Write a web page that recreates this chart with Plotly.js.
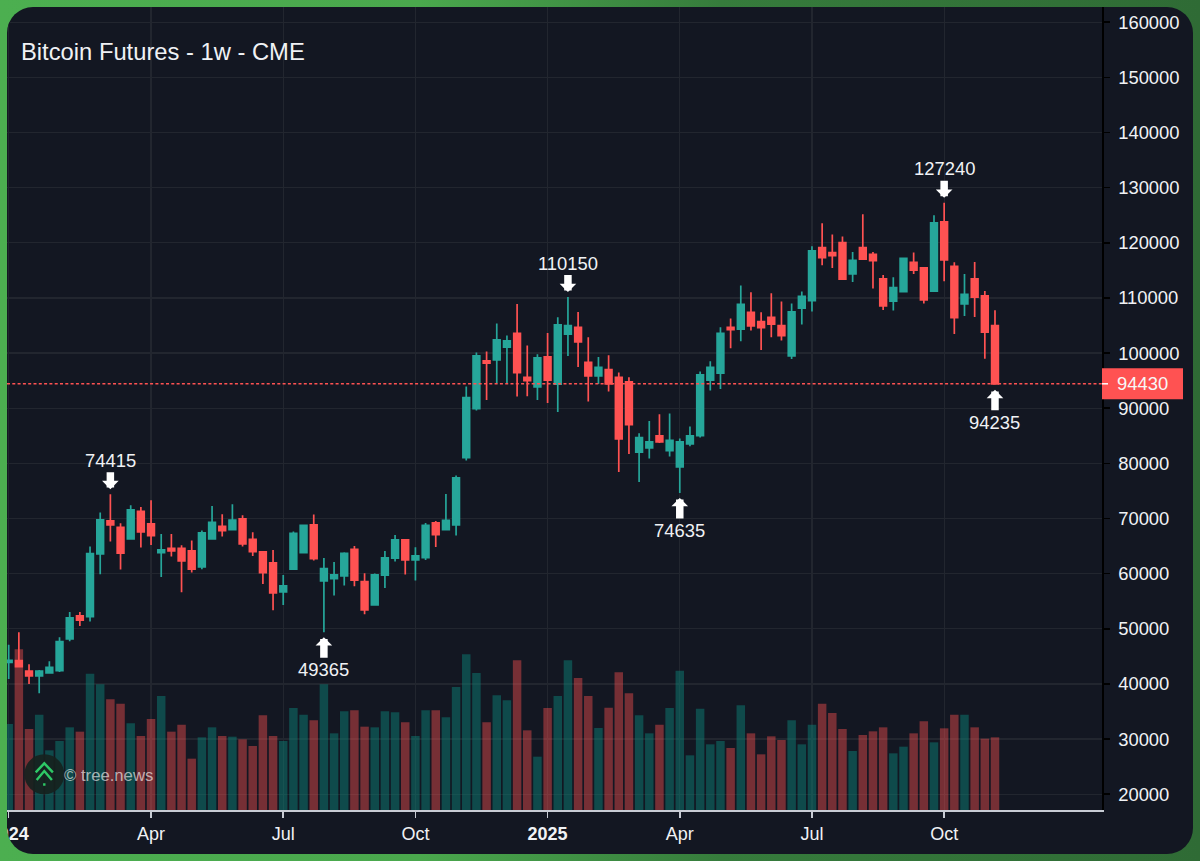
<!DOCTYPE html>
<html>
<head>
<meta charset="utf-8">
<script src="https://cdn.plot.ly/plotly-3.0.1.min.js"></script>
<style>
html,body{margin:0;padding:0;width:1200px;height:861px;overflow:hidden;background:linear-gradient(90deg,#4caf50 0%,#4aa84d 35%,#367c3c 60%,#2f6b35 100%);}
#panel{position:absolute;left:7px;top:7px;width:1186px;height:847px;border-radius:26px;overflow:hidden;background:#131722;}
#chart{position:absolute;left:0;top:0;width:1186px;height:847px;}
</style>
</head>
<body>
<div id="panel"><div id="chart"></div></div>
<script>
const weeks = [
"2024-01-01","2024-01-08","2024-01-15","2024-01-22","2024-01-29","2024-02-05","2024-02-12","2024-02-19","2024-02-26","2024-03-04",
"2024-03-11","2024-03-18","2024-03-25","2024-04-01","2024-04-08","2024-04-15","2024-04-22","2024-04-29","2024-05-06","2024-05-13",
"2024-05-20","2024-05-27","2024-06-03","2024-06-10","2024-06-17","2024-06-24","2024-07-01","2024-07-08","2024-07-15","2024-07-22",
"2024-07-29","2024-08-05","2024-08-12","2024-08-19","2024-08-26","2024-09-02","2024-09-09","2024-09-16","2024-09-23","2024-09-30",
"2024-10-07","2024-10-14","2024-10-21","2024-10-28","2024-11-04","2024-11-11","2024-11-18","2024-11-25","2024-12-02","2024-12-09",
"2024-12-16","2024-12-23","2024-12-30","2025-01-06","2025-01-13","2025-01-20","2025-01-27","2025-02-03","2025-02-10","2025-02-17",
"2025-02-24","2025-03-03","2025-03-10","2025-03-17","2025-03-24","2025-03-31","2025-04-07","2025-04-14","2025-04-21","2025-04-28",
"2025-05-05","2025-05-12","2025-05-19","2025-05-26","2025-06-02","2025-06-09","2025-06-16","2025-06-23","2025-06-30","2025-07-07",
"2025-07-14","2025-07-21","2025-07-28","2025-08-04","2025-08-11","2025-08-18","2025-08-25","2025-09-01","2025-09-08","2025-09-15",
"2025-09-22","2025-09-29","2025-10-06","2025-10-13","2025-10-20","2025-10-27","2025-11-03","2025-11-10"];

const opens = [
43900,44240,42307,41460,42005,42430,48170,52340,52220,63580,
69565,68417,66300,71318,69020,63825,64610,64610,64125,61225,
66300,68598,67995,69928,66240,63944,61950,56690,60800,63823,
68840,58685,59109,59592,64427,58565,54333,59713,62795,66120,
62493,62916,69200,67993,68840,81049,89934,98577,98758,101055,
103594,95616,93863,99302,94346,103412,104682,98335,95857,97006,
95616,94770,82017,82802,84978,82319,79360,83529,85040,95073,
96343,104683,104322,107403,105711,106497,104985,99485,108128,109518,
119128,118222,120035,114354,119128,117920,113447,109398,111150,116469,
115442,111210,123782,115744,108914,113447,110365,104985];
const highs = [
47100,49380,43575,42550,44120,48470,53065,53065,64910,71075,
74415,69140,72405,72100,73310,67210,67210,65150,65995,67812,
72285,70770,72587,70593,67510,64000,64306,59773,67630,68850,
70713,62856,62130,63883,65032,60076,60015,64125,67026,66300,
64790,69200,69565,74460,77785,93923,100088,100270,105347,103170,
108912,101358,99786,103654,106495,110150,107462,102868,99302,99605,
96462,95616,85462,87698,88907,89027,84500,86672,96645,98519,
104683,106255,112238,111030,107403,110848,109337,108974,111150,119370,
123540,121486,121123,118343,125172,118343,114172,113749,117315,118222,
115562,124991,127240,116469,114354,116530,111271,107766];
const lows = [
40900,42970,40010,38320,41880,42185,47745,50525,51310,59895,
65817,60740,66180,64730,65210,59410,63100,56630,60197,60800,
66180,66725,67935,64910,63220,58140,53367,54333,60680,63823,
62372,49365,56025,57840,57720,52640,54270,57416,62190,59834,
58745,62493,64850,67873,66905,80506,89571,91506,94467,94467,
92110,92170,91506,90962,89330,99484,97490,91203,94407,93017,
78450,81715,76637,80868,83709,81231,74635,83106,84677,93200,
93502,100875,102145,104080,100573,102870,102266,98942,105166,107524,
115925,115441,113266,112903,116950,111694,107826,107705,111030,114354,
108975,111150,113024,103475,106738,106557,98987,94235];
const closes = [
44300,43150,41460,42307,43030,47690,51980,51550,63640,69745,
68840,63700,71560,67570,66905,64307,64125,62310,60800,67390,
69322,67810,69690,65395,64005,60196,56510,57780,67328,68780,
62735,60921,59773,63702,58806,53427,59773,62856,66120,62493,
63218,68779,67087,69686,77360,91929,99484,98154,102385,102204,
96462,95011,99121,95072,105105,104984,102022,95857,97429,94407,
84434,87033,84676,83890,83890,84193,83892,84980,96040,97430,
103595,104260,108853,104925,104623,105227,103172,107463,110304,118524,
117315,117678,113386,116832,117013,116770,108551,111876,117195,115019,
109639,123601,116892,106436,110667,110123,103776,94430];
// Weekly volume (contracts, approximate scale)
const volumes = [
2580,4820,2430,2860,1790,2070,2480,2350,4090,3770,
3320,3190,2600,2220,2730,3420,2350,2560,1540,2180,
2480,2220,2200,2120,1920,2840,2220,2070,3060,2860,
2690,3770,2300,2960,2990,2500,2480,2960,2930,2630,
2220,2990,2990,2780,3690,4670,4110,2630,3440,3290,
4490,2390,1600,3060,3420,4490,3960,3420,2460,3070,
4130,3500,2840,2300,2560,3060,4180,1640,3040,1970,
2070,1860,3140,2300,1670,2210,2100,2690,1970,2560,
3190,2910,2430,1770,2250,2360,2480,1700,1900,2300,
2660,2030,2450,2860,2860,2480,2140,2180];

const tickDates = ["2024-01-01","2024-04-08","2024-07-08","2024-10-07","2025-01-06","2025-04-07","2025-07-07","2025-10-06"];
const tickLabels = ["<b>2024</b>","Apr","Jul","Oct","<b>2025</b>","Apr","Jul","Oct"];
const priceTicks = [20000,30000,40000,50000,60000,70000,80000,90000,100000,110000,120000,130000,140000,150000,160000];
const lastPrice = 94430;
const extremes = [
  {week:"2024-03-11", value:74415, above:true},
  {week:"2024-08-05", value:49365, above:false},
  {week:"2025-01-20", value:110150, above:true},
  {week:"2025-04-07", value:74635, above:false},
  {week:"2025-10-06", value:127240, above:true},
  {week:"2025-11-10", value:94235, above:false}
];

const UP = "#26a69a", DOWN = "#ff5252", TEXT = "#f0f2f5", FONT = '"Liberation Sans", Arial, sans-serif';
const W = 1186, H = 847, L = 0, T = 0, R = 91, B = 44;
const px = x => (x - 7 - L) / (W - L - R);
const py = y => 1 - (y - 7 - T) / (H - T - B);
const P = (x, y) => px(x).toFixed(5) + "," + py(y).toFixed(5);

const volTrace = {
  type: "bar", x: weeks, y: volumes, yaxis: "y2", width: 505000000,
  marker: {color: closes.map((c, i) => c >= opens[i] ? "rgba(10,132,122,0.47)" : "rgba(255,82,82,0.42)"), line: {width: 0}},
  hoverinfo: "skip", showlegend: false
};
const candleTrace = {
  type: "candlestick", x: weeks, open: opens, high: highs, low: lows, close: closes,
  increasing: {line: {color: UP, width: 1.7}, fillcolor: UP},
  decreasing: {line: {color: DOWN, width: 1.7}, fillcolor: DOWN},
  whiskerwidth: 0, showlegend: false, hoverinfo: "x+y"
};

const arrows = extremes.map(e => ({
  x: e.week, y: e.value, xref: "x", yref: "y", text: String(e.value),
  showarrow: true, arrowhead: 1, arrowwidth: 7.5, arrowsize: 0.37, arrowcolor: "#ffffff",
  ax: 0, ay: e.above ? -34 : 37.5, standoff: 5, borderpad: 1,
  font: {family: FONT, size: 18.4, color: TEXT}
}));

const chevron = (ax, ay, ex, ey) =>
  "M" + P(44.3 - ex, ey) + " L" + P(ax, ay) + " L" + P(44.3 + ex, ey);
const logoStyle = {xref: "paper", yref: "paper", type: "path", line: {color: "#2ec866", width: 2.4}, fillcolor: "rgba(0,0,0,0)", layer: "above"};

const layout = {
  width: W, height: H, autosize: false,
  margin: {l: L, t: T, r: R, b: B, pad: 0},
  paper_bgcolor: "rgba(0,0,0,0)", plot_bgcolor: "rgba(0,0,0,0)",
  font: {family: FONT, size: 18, color: TEXT},
  showlegend: false, boxgap: 0.34, boxgroupgap: 0, dragmode: false,
  title: {text: "Bitcoin Futures - 1w - CME", x: 14 / W, xanchor: "left", xref: "container", y: 1 - 45 / H, yanchor: "middle", font: {family: FONT, size: 23.75, color: TEXT}},
  xaxis: {
    type: "date", range: ["2023-12-30 20:00", "2026-01-22 16:00"],
    tickmode: "array", tickvals: tickDates, ticktext: tickLabels, tickangle: 0,
    showgrid: true, gridcolor: "#22262f", gridwidth: 1.3,
    ticks: "outside", ticklen: 6, tickwidth: 1.5, tickcolor: "#c8ccd4",
    showline: true, linecolor: "#c8ccd4", linewidth: 2,
    tickfont: {family: FONT, size: 18, color: TEXT}, ticklabelstandoff: 0, ticklabeloverflow: "allow",
    rangeslider: {visible: false}, zeroline: false, fixedrange: true
  },
  yaxis: {
    side: "right", range: [17140, 162760], tickmode: "array", tickvals: priceTicks, ticktext: priceTicks.map(String),
    showgrid: true, gridcolor: "#22262f", gridwidth: 1.3,
    ticks: "outside", ticklen: 6, tickwidth: 1.5, tickcolor: "#000000",
    showline: true, linecolor: "#000000", linewidth: 1.5,
    tickfont: {family: FONT, size: 18.4, color: TEXT}, ticklabelstandoff: 5,
    zeroline: false, fixedrange: true
  },
  yaxis2: {overlaying: "y", side: "left", range: [0, 24090], visible: false, fixedrange: true},
  shapes: [
    {type: "line", xref: "paper", x0: 0, x1: 1, yref: "y", y0: lastPrice, y1: lastPrice, line: {color: DOWN, width: 1.5, dash: "3px,2.3px"}, layer: "above"},
    {type: "rect", xref: "paper", yref: "y", xsizemode: "pixel", ysizemode: "pixel", xanchor: 1, yanchor: lastPrice, x0: 0, x1: 81, y0: -15.5, y1: 15.5, fillcolor: DOWN, line: {width: 0}, layer: "above"},
    {type: "line", xref: "paper", yref: "y", xsizemode: "pixel", xanchor: 1, x0: 0, x1: 6, y0: lastPrice, y1: lastPrice, line: {color: "#ffffff", width: 1.5}, layer: "above"},
    {type: "circle", xref: "paper", yref: "paper", x0: px(24.3), x1: px(64.3), y0: py(794.3), y1: py(754.3), fillcolor: "rgba(22,34,30,0.92)", line: {width: 0}, layer: "above"},
    Object.assign({path: chevron(44.3, 763.3, 8.6, 772.3)}, logoStyle),
    Object.assign({path: chevron(44.3, 771, 7.6, 780)}, logoStyle),
    Object.assign({path: "M" + P(44.3, 783.2) + " L" + P(44.3, 785.8)}, logoStyle)
  ],
  annotations: arrows.concat([
    {xref: "paper", yref: "y", x: 1, xshift: 12.5, xanchor: "left", y: lastPrice, yanchor: "middle", text: String(lastPrice), showarrow: false, font: {family: FONT, size: 18.4, color: "#f7f7f7"}},
    {xref: "paper", yref: "paper", x: px(63), xanchor: "left", y: py(775), yanchor: "middle", text: "© tree.news", showarrow: false, font: {family: FONT, size: 16.7, color: "rgba(255,255,255,0.62)"}, borderpad: 0}
  ])
};

Plotly.newPlot("chart", [volTrace, candleTrace], layout, {displayModeBar: false, staticPlot: true});
</script>
</body>
</html>
